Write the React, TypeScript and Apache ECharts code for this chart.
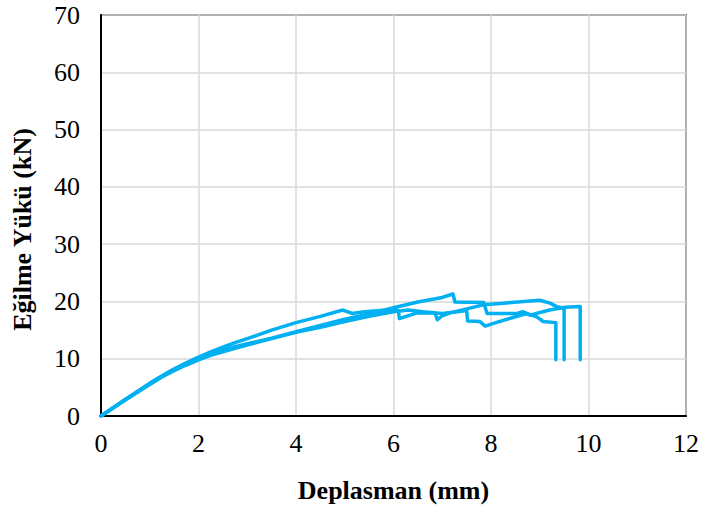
import React, { useEffect, useRef } from "react";
import * as echarts from "echarts";

const xTicks = [0, 2, 4, 6, 8, 10, 12];
const yTicks = [0, 10, 20, 30, 40, 50, 60, 70];

const specimen1: [number, number][] = [
  [0, 0], [0.5, 2.9], [1, 5.7], [1.25, 7.0], [1.5, 8.2], [1.75, 9.3], [2, 10.3], [2.25, 11.2],
  [2.5, 12.0], [2.75, 12.8], [3, 13.5], [3.5, 15.0], [4, 16.3], [4.5, 17.4], [4.96, 18.5],
  [5.15, 17.9], [5.4, 18.2], [6.0, 18.6], [6.1, 18.4], [6.12, 17.0], [6.34, 17.6], [6.48, 18.0],
  [6.85, 18.0], [6.9, 16.8], [7.0, 17.5], [7.16, 18.0], [7.84, 19.4], [9.0, 20.2], [9.21, 19.7],
  [9.35, 19.1], [9.5, 18.8], [9.5, 9.8],
];

const specimen2: [number, number][] = [
  [0, 0], [0.5, 2.9], [1, 5.7], [1.25, 7.0], [1.5, 8.2], [1.75, 9.2], [2, 10.1], [2.25, 10.9],
  [2.5, 11.5], [2.75, 12.1], [3, 12.6], [3.5, 13.6], [4, 14.7], [4.5, 15.8], [5, 16.9],
  [5.5, 17.8], [6.0, 18.9], [6.5, 19.9], [7.0, 20.7], [7.22, 21.3], [7.26, 19.9], [7.85, 19.8],
  [7.92, 17.9], [8.12, 17.9], [8.53, 17.9], [8.66, 18.2], [8.8, 17.6], [9.2, 18.5], [9.52, 19.0],
  [9.83, 19.1], [9.83, 9.8],
];

const specimen3: [number, number][] = [
  [0, 0], [0.5, 2.8], [1, 5.5], [1.25, 6.8], [1.5, 7.9], [1.75, 8.9], [2, 9.8], [2.25, 10.6],
  [2.5, 11.2], [2.75, 11.8], [3, 12.4], [3.5, 13.5], [4, 14.6], [4.5, 15.5], [5, 16.5],
  [5.5, 17.4], [6.0, 18.2], [6.3, 18.5], [6.6, 18.2], [7.0, 17.9], [7.3, 18.2], [7.5, 18.4],
  [7.52, 16.6], [7.77, 16.5], [7.88, 15.7], [8.1, 16.3], [8.45, 17.2], [8.73, 17.9], [8.94, 17.3],
  [9.07, 16.5], [9.33, 16.3], [9.33, 9.8],
];

const seriesData = [specimen1, specimen2, specimen3];
const lineColor = "#00B0F0";
const font = "'Liberation Serif', 'Times New Roman', serif";

export default function App() {
  const ref = useRef<HTMLDivElement>(null);
  useEffect(() => {
    if (!ref.current) return;
    const chart = echarts.init(ref.current, undefined, { renderer: "svg" });
    chart.setOption({
      animation: false,
      backgroundColor: "#ffffff",
      grid: {
        left: 101, top: 15, right: 17, bottom: 93,
        outerBoundsMode: "none", containLabel: false,
        show: true, borderColor: "#000", borderWidth: 1.5,
      },
      xAxis: {
        type: "value",
        min: xTicks[0],
        max: xTicks[xTicks.length - 1],
        interval: 2,
        name: "Deplasman (mm)",
        nameLocation: "middle",
        nameGap: 61,
        nameTextStyle: { fontFamily: font, fontSize: 26, fontWeight: "bold", color: "#000" },
        axisLine: { show: true, lineStyle: { color: "#000", width: 2 } },
        axisTick: { show: false },
        axisLabel: { fontFamily: font, fontSize: 26, color: "#000", margin: 14 },
        splitLine: { show: true, lineStyle: { color: "#d9d9d9", width: 1.5 } },
      },
      yAxis: {
        type: "value",
        min: yTicks[0],
        max: yTicks[yTicks.length - 1],
        interval: 10,
        name: "Eğilme Yükü (kN)",
        nameLocation: "middle",
        nameGap: 66,
        nameRotate: 90,
        nameTextStyle: { fontFamily: font, fontSize: 26, fontWeight: "bold", color: "#000", padding: [0, 28, 0, 0] },
        axisLine: { show: true, lineStyle: { color: "#000", width: 2 } },
        axisTick: { show: false },
        axisLabel: { fontFamily: font, fontSize: 26, color: "#000", margin: 21 },
        splitLine: { show: true, lineStyle: { color: "#d9d9d9", width: 1.5 } },
      },
      series: seriesData.map((d, i) => ({
        type: "line",
        name: "S" + (i + 1),
        data: d,
        showSymbol: false,
        symbol: "none",
        lineStyle: { color: lineColor, width: 3.5, join: "round", cap: "round" },
        z: 3,
      })),
    });
    return () => chart.dispose();
  }, []);
  return <div ref={ref} style={{ position: "fixed", left: 0, top: 0, width: 703, height: 509 }} />;
}
